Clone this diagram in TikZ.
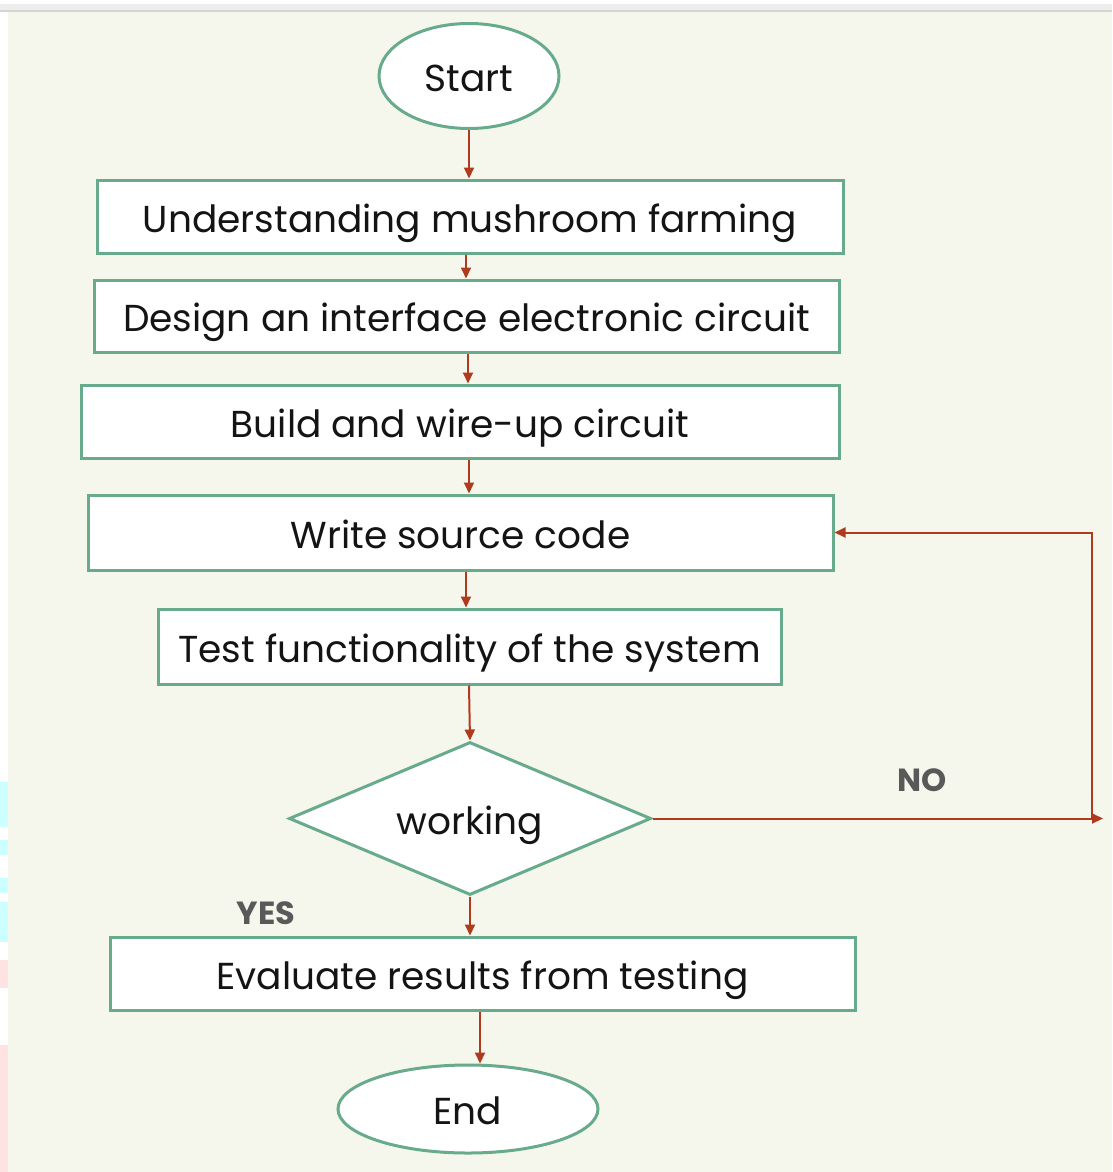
\documentclass[tikz,border=0pt]{standalone}
\usepackage{fontspec}
\setmainfont{Poppins}
\usetikzlibrary{shapes.geometric,arrows.meta}

\definecolor{boxline}{RGB}{104,170,140}
\definecolor{flowred}{RGB}{176,58,30}
\definecolor{pagebg}{RGB}{245,247,237}
\definecolor{labelgray}{RGB}{89,89,89}
\definecolor{inkblack}{RGB}{20,20,20}
\definecolor{edgecyan}{RGB}{204,255,255}
\definecolor{edgepink}{RGB}{255,226,226}

\tikzset{
  shapetext/.style={inner sep=0pt, text=inkblack, text height=36pt, text depth=5pt,
    font=\fontsize{37.5}{40}\selectfont},
  stepbox/.style={shapetext, draw=boxline, line width=3pt, fill=white, rectangle},
  terminal/.style={shapetext, draw=boxline, line width=3pt, fill=white, ellipse},
  decision/.style={shapetext, draw=boxline, line width=3pt, fill=white, diamond, aspect=2.37},
  flow/.style={draw=flowred, line width=2pt,
    -{Triangle[length=11pt,width=10pt]}},
  answer/.style={text=labelgray, font=\bfseries\fontsize{32}{34}\selectfont}
}

\begin{document}
\begin{tikzpicture}[x=1pt,y=-1pt]
  % page frame and backdrop
  \useasboundingbox (0,0) rectangle (1112,1172);
  \fill[white] (0,0) rectangle (1112,1172);
  \fill[black!7] (0,4) rectangle (1112,10);
  \fill[black!17] (0,10) rectangle (1112,12);
  \fill[pagebg] (8,12) rectangle (1112,1172);
  \fill[edgecyan] (0,782) rectangle (8,827);
  \fill[edgecyan] (0,840) rectangle (8,855);
  \fill[edgecyan] (0,878) rectangle (8,893);
  \fill[edgecyan] (0,902) rectangle (8,942);
  \fill[edgepink] (0,960) rectangle (8,988);
  \fill[edgepink] (0,1045) rectangle (8,1172);

  % flow steps
  \node[terminal, minimum width=180pt, minimum height=105pt] (start) at (469,76) {Start};
  \node[stepbox, minimum width=746pt, minimum height=73pt] (b1) at (470,216.5) {Understanding mushroom farming};
  \node[stepbox, minimum width=745pt, minimum height=72pt] (b2) at (466.5,316) {Design an interface electronic circuit};
  \node[stepbox, minimum width=758pt, minimum height=73pt] (b3) at (460,421.5) {Build and wire-up circuit};
  \node[stepbox, minimum width=745pt, minimum height=75pt] (b4) at (460.5,532.5) {Write source code};
  \node[stepbox, minimum width=623pt, minimum height=75pt] (b5) at (469.5,646.5) {Test functionality of the system};
  \node[decision, minimum width=362pt, minimum height=153pt] (dec) at (470,818.5) {working};
  \node[stepbox, minimum width=745pt, minimum height=73pt] (b6) at (482.5,973.5) {Evaluate results from testing};
  \node[terminal, minimum width=260pt, minimum height=88pt] (endn) at (468,1109) {End};

  % branch labels
  \node[answer] (no) at (922,780) {NO};
  \node[answer] (yes) at (266,913) {YES};

  % connectors
  \draw[flow] (start.south) -- (b1.north -| 469,0);
  \draw[flow] (b1.south -| 466,0) -- (b2.north -| 466,0);
  \draw[flow] (b2.south -| 468,0) -- (b3.north -| 468,0);
  \draw[flow] (b3.south -| 469,0) -- (b4.north -| 469,0);
  \draw[flow] (b4.south -| 466,0) -- (b5.north -| 466,0);
  \draw[flow] (b5.south -| 469,0) -- (dec.north);
  \draw[flow] (dec.south) -- (b6.north -| 470,0);
  \draw[flow] (b6.south -| 480,0) -- (endn.north -| 480,0);

  % NO branch loops back to the coding step
  \coordinate (noend) at (1103,818.5);
  \coordinate (turn) at (1092,818.5);
  \draw[flow] (dec.east) -- (noend);
  \draw[flow] (turn) |- (b4.east);
\end{tikzpicture}
\end{document}
